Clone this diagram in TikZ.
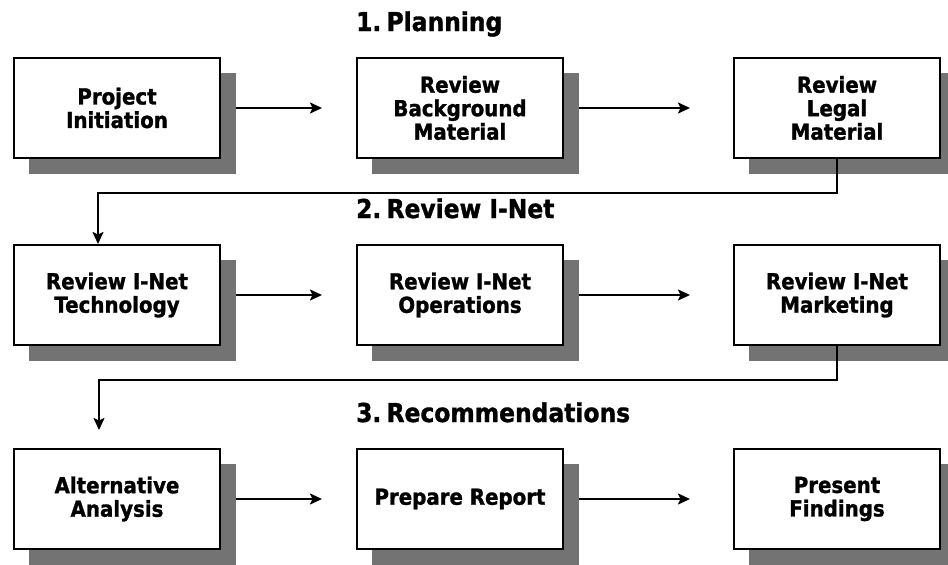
\documentclass[tikz,border=0pt]{standalone}
\usepackage{fontspec}
\setmainfont[FakeStretch=0.9,BoldFeatures={FakeBold=1.3}]{DejaVu Sans}
\usetikzlibrary{arrows.meta}

\begin{document}
\begin{tikzpicture}[x=1pt,y=-1pt,
  box/.style={draw=black, line width=2pt, fill=white,
    minimum width=206pt, minimum height=100pt, inner sep=0pt,
    align=center, anchor=north west,
    font=\fontsize{22}{23.5}\selectfont\bfseries},
  shadowbox/.style={fill=black!55, draw=none,
    minimum width=207pt, minimum height=101pt, inner sep=0pt,
    anchor=north west},
  phase/.style={font=\fontsize{26}{28}\selectfont\bfseries,
    anchor=base west, inner sep=0pt},
  arr/.style={line width=2pt, -{Stealth[length=12pt,width=11pt,inset=2.5pt]}},
]
\useasboundingbox (0,0) rectangle (948,565);

% drop shadows behind the boxes
\foreach \r/\y in {1/57,2/244,3/448}{
  \foreach \c/\x in {1/13,2/356,3/733}{
    \node[shadowbox] (s\r\c) at (\x+16,\y+16) {};
  }
}

% phase headings
\node[phase] (h1) at (356,31)  {1.\hspace{0.2em}Planning};
\node[phase] (h2) at (356,218) {2.\hspace{0.2em}Review I-Net};
\node[phase] (h3) at (356,422) {3.\hspace{0.2em}Recommendations};

% row 1
\node[box] (n11) at (13,57)  {Project\\Initiation};
\node[box] (n12) at (356,57) {Review\\Background\\Material};
\node[box] (n13) at (733,57) {Review\\Legal\\Material};
% row 2
\node[box] (n21) at (13,244)  {Review I-Net\\Technology};
\node[box] (n22) at (356,244) {Review I-Net\\Operations};
\node[box] (n23) at (733,244) {Review I-Net\\Marketing};
% row 3
\node[box] (n31) at (13,448)  {Alternative\\Analysis};
\node[box] (n32) at (356,448) {Prepare Report};
\node[box] (n33) at (733,448) {Present\\Findings};

% free arrow ends and bends
\coordinate (t1) at (322,0);
\coordinate (t2) at (690,0);
\coordinate (k1) at (98,193);
\coordinate (k2) at (99,380);
\coordinate (e2) at (99,430);

% horizontal arrows within each row
\foreach \r in {1,2,3}{
  \draw[arr] (s\r1.east |- n\r1.east) -- (t1 |- n\r1.east);
  \draw[arr] (s\r2.east |- n\r2.east) -- (t2 |- n\r2.east);
}

% links between rows
\draw[arr] (n13.south) |- (k1) -- (k1 |- n21.north);
\draw[arr] (n23.south) |- (k2) -- (e2);
\end{tikzpicture}
\end{document}
